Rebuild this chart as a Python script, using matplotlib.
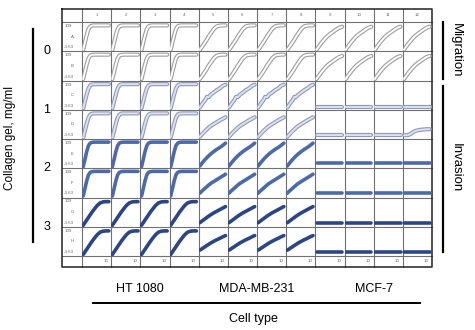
"""Plate-reader style grid of cell index curves: migration and invasion of three
cell lines through collagen gels of increasing concentration."""

import matplotlib

matplotlib.use("Agg")
import matplotlib.pyplot as plt

plt.rcParams["font.family"] = ["Liberation Sans", "DejaVu Sans"]

# Cell index readings (y range -3.63 .. 109) at shared time points.
TIME = [4, 10, 16, 22, 28, 34, 42, 52, 62, 72, 82, 92]

HT_MIGRATION = [2, 30, 58, 81, 92, 95, 96, 96, 96, 96, 96, 96]
MDA_MIGRATION = [2, 11, 21, 31, 41, 53, 66, 82, 92, 95, 96, 96]
MCF_MIGRATION = [2, 12, 21, 30, 38, 46, 55, 64, 72, 80, 87, 91]

HT_GEL1 = [2, 28, 55, 78, 90, 94, 95, 95, 95, 95, 95, 95]
MDA_GEL1_C = [5, 15, 25, 33, 46, 45, 55, 63, 72, 78, 88, 93]
MDA_GEL1_D = [5, 13, 20, 27, 33, 40, 47, 54, 61, 68, 74, 80]
MCF_GEL1_C = [6.5, 6.5, 6.5, 6.5, 6.5, 6.5, 6.5, 6.5, 6.5, 6.5, 6.5, 6.5]
MCF_GEL1_D = [11, 11, 11, 11, 11, 11, 11, 11, 11, 11, 11, 11]
MCF_GEL1_D12 = [11, 11, 11, 13, 17, 22, 27, 30, 32, 33, 34, 34]

HT_GEL2 = [2, 30, 60, 83, 93, 96, 97, 97, 97, 97, 97, 97]
MDA_GEL2_E = [5, 14, 22, 30, 37, 44, 52, 61, 69, 76, 84, 93]
MDA_GEL2_F = [13, 20, 26, 32, 38, 44, 51, 58, 65, 72, 79, 86]
MCF_GEL2_E = [15.5, 15.5, 15.5, 15.5, 15.5, 15.5, 15.5, 15.5, 15.5, 15.5, 15.5, 15.5]
MCF_GEL2_F = [12, 12, 12, 12, 12, 12, 12, 12, 12, 12, 12, 12]

HT_GEL3 = [2, 12, 22, 32, 42, 52, 64, 78, 88, 92, 93, 93]
MDA_GEL3_G = [12, 17, 22, 27, 32, 37, 43, 50, 56, 62, 68, 74]
MDA_GEL3_H = [19, 23, 28, 32, 37, 41, 47, 53, 59, 64, 70, 75]
MCF_GEL3 = [12, 12, 12, 12, 12, 12, 12, 12, 12, 12, 12, 12]

ROW_LETTERS = ["A", "B", "C", "D", "E", "F", "G", "H"]
COLUMN_NUMBERS = [str(i) for i in range(1, 13)]
CONCENTRATIONS = ["0", "1", "2", "3"]
CELL_TYPES = ["HT 1080", "MDA-MB-231", "MCF-7"]
Y_MIN, Y_MAX = -3.63, 109

# (HT 1080, MDA-MB-231, MCF-7) curves for each plate row
ROW_CURVES = [
    (HT_MIGRATION, MDA_MIGRATION, MCF_MIGRATION),
    (HT_MIGRATION, MDA_MIGRATION, MCF_MIGRATION),
    (HT_GEL1, MDA_GEL1_C, MCF_GEL1_C),
    (HT_GEL1, MDA_GEL1_D, MCF_GEL1_D),
    (HT_GEL2, MDA_GEL2_E, MCF_GEL2_E),
    (HT_GEL2, MDA_GEL2_F, MCF_GEL2_F),
    (HT_GEL3, MDA_GEL3_G, MCF_GEL3),
    (HT_GEL3, MDA_GEL3_H, MCF_GEL3),
]
# well D12 is the only MCF-7 well that starts to invade
SPECIAL_WELLS = {(3, 11): MCF_GEL1_D12}

# line styles per row: (outer colour, inner colour or None)
ROW_STYLE = [
    ("#9c9c9c", "white"),
    ("#9c9c9c", "white"),
    ("#8f98ba", "#dde1ee"),
    ("#8f98ba", "#dde1ee"),
    ("#4c6aa8", None),
    ("#4c6aa8", None),
    ("#2c4584", None),
    ("#2c4584", None),
]

W, H = 475, 330
TABLE_LEFT, LABEL_RIGHT, TABLE_RIGHT = 62, 82, 432
TABLE_TOP, HEADER_BOTTOM, BODY_BOTTOM, TABLE_BOTTOM = 9, 22, 256, 267

fig = plt.figure(figsize=(W / 100, H / 100), dpi=100)
page = fig.add_axes([0, 0, 1, 1])
page.set_xlim(0, W)
page.set_ylim(H, 0)
page.axis("off")

col_w = (TABLE_RIGHT - LABEL_RIGHT) / len(COLUMN_NUMBERS)
row_h = (BODY_BOTTOM - HEADER_BOTTOM) / len(ROW_LETTERS)
col_edges = [LABEL_RIGHT + i * col_w for i in range(len(COLUMN_NUMBERS) + 1)]
row_edges = [HEADER_BOTTOM + j * row_h for j in range(len(ROW_LETTERS) + 1)]

grid_kw = dict(color="#707070", lw=0.8, zorder=3)
for x in col_edges[:-1]:
    page.plot([x, x], [TABLE_TOP, TABLE_BOTTOM], **grid_kw)
for y in row_edges:
    page.plot([TABLE_LEFT, TABLE_RIGHT], [y, y], **grid_kw)
page.plot([TABLE_LEFT, TABLE_RIGHT, TABLE_RIGHT, TABLE_LEFT, TABLE_LEFT],
          [TABLE_TOP, TABLE_TOP, TABLE_BOTTOM, TABLE_BOTTOM, TABLE_TOP],
          color="#222222", lw=1.1, zorder=4)

small = dict(fontsize=3.2, color="#666666")
for i, num in enumerate(COLUMN_NUMBERS):
    page.text(col_edges[i] + col_w / 2, (TABLE_TOP + HEADER_BOTTOM) / 2, num,
              ha="center", va="center", **small)
    page.text(col_edges[i + 1] - 3, (BODY_BOTTOM + TABLE_BOTTOM) / 2, "10",
              ha="right", va="center", **small)

for j, letter in enumerate(ROW_LETTERS):
    top, bottom = row_edges[j], row_edges[j + 1]
    page.text(65, top + 2, "109", ha="left", va="top", **small)
    page.text(72, (top + bottom) / 2, letter, ha="center", va="center", **small)
    page.text(64, bottom - 2, "-3.63", ha="left", va="bottom", **small)

# one small axes per well
for r in range(len(ROW_LETTERS)):
    outer, inner = ROW_STYLE[r]
    for c in range(len(COLUMN_NUMBERS)):
        curve = SPECIAL_WELLS.get((r, c), ROW_CURVES[r][c // 4])
        x0 = col_edges[c]
        y0 = row_edges[r + 1]
        ax = fig.add_axes([x0 / W, 1 - y0 / H, col_w / W, row_h / H])
        ax.set_xlim(0, 100)
        ax.set_ylim(Y_MIN, Y_MAX)
        ax.axis("off")
        ax.patch.set_alpha(0)
        if inner is None:
            ax.plot(TIME, curve, color=outer, lw=2.6, solid_capstyle="round")
        else:
            ax.plot(TIME, curve, color=outer, lw=3.0, solid_capstyle="round")
            ax.plot(TIME, curve, color=inner, lw=1.4, solid_capstyle="round")

# concentration axis on the left
page.plot([33, 33], [29, 242], color="black", lw=1.6)
for k, conc in enumerate(CONCENTRATIONS):
    yc = (row_edges[2 * k] + row_edges[2 * k + 2]) / 2
    page.text(47, yc, conc, ha="center", va="center", fontsize=9)
page.text(10, 138, "Collagen gel, mg/ml", rotation=90,
          ha="center", va="center", fontsize=8.5)

# assay brackets on the right
page.plot([443, 443], [22, 79], color="black", lw=1.6)
page.plot([443, 443], [86, 252], color="black", lw=1.6)
page.text(456, 50, "Migration", rotation=-90, ha="center", va="center", fontsize=9.5)
page.text(456, 168, "Invasion", rotation=-90, ha="center", va="center", fontsize=9.5)

# cell type labels underneath
for k, name in enumerate(CELL_TYPES):
    xc = (col_edges[4 * k] + col_edges[4 * k + 4]) / 2
    page.text(xc, 289, name, ha="center", va="center", fontsize=9)
page.plot([93, 420], [303, 303], color="black", lw=1.4)
page.text(253, 319, "Cell type", ha="center", va="center", fontsize=9)

fig.savefig("out.png", dpi=100)
